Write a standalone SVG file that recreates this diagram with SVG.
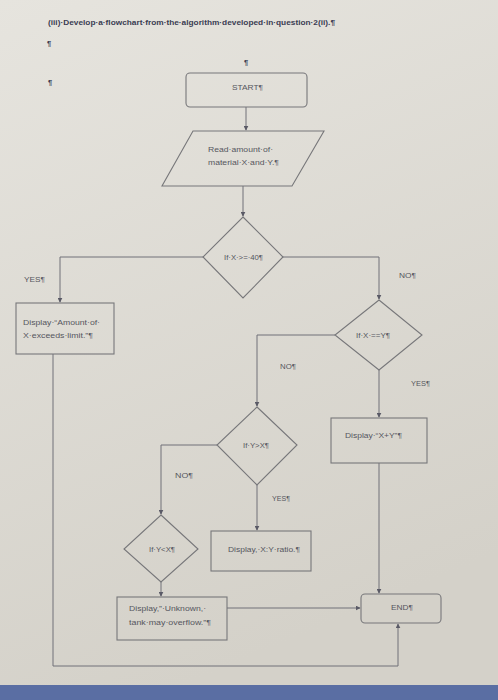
<svg xmlns="http://www.w3.org/2000/svg" width="498" height="700" viewBox="0 0 498 700">
<defs>
<linearGradient id="bg" x1="0" y1="0" x2="0.3" y2="1">
<stop offset="0" stop-color="#e6e4de"/>
<stop offset="1" stop-color="#d4d1c9"/>
</linearGradient>
<marker id="ah" viewBox="0 0 8 8" refX="7" refY="4" markerWidth="5" markerHeight="5" orient="auto" markerUnits="userSpaceOnUse">
<path d="M0,0 L8,4 L0,8 z" fill="#5a5a66"/>
</marker>
<style>
.shape{fill:none;stroke:#77777a;stroke-width:1.1}
.ln{fill:none;stroke:#707078;stroke-width:1}
.t{font-family:"Liberation Sans","DejaVu Sans",sans-serif;font-size:7px;fill:#55565e}
.title{font-family:"Liberation Sans","DejaVu Sans",sans-serif;font-size:7.5px;font-weight:bold;fill:#3a3c52}
.pm{font-family:"Liberation Sans","DejaVu Sans",sans-serif;font-size:7.5px;font-weight:bold;fill:#3a3c52}
</style>
</defs>
<rect x="0" y="0" width="498" height="700" fill="url(#bg)"/>
<rect x="0" y="685" width="498" height="15" fill="#5a6ea3"/>
<text class="title" x="48" y="25" textLength="287" lengthAdjust="spacingAndGlyphs">(iii)·Develop·a·flowchart·from·the·algorithm·developed·in·question·2(ii).¶</text>
<text class="pm" x="47" y="46">¶</text>
<text class="pm" x="244" y="65">¶</text>
<text class="pm" x="48" y="85">¶</text>

<g id="connectors">
<path class="ln" d="M246,107 V130" marker-end="url(#ah)"/>
<path class="ln" d="M243,186 V216" marker-end="url(#ah)"/>
<path class="ln" d="M203,257 H60 V302" marker-end="url(#ah)"/>
<path class="ln" d="M283,257 H379 V299" marker-end="url(#ah)"/>
<path class="ln" d="M335,335 H257 V406" marker-end="url(#ah)"/>
<path class="ln" d="M379,370 V417" marker-end="url(#ah)"/>
<path class="ln" d="M379,463 V593" marker-end="url(#ah)"/>
<path class="ln" d="M257,485 V530" marker-end="url(#ah)"/>
<path class="ln" d="M217,445 H161 V514" marker-end="url(#ah)"/>
<path class="ln" d="M161,582 V596" marker-end="url(#ah)"/>
<path class="ln" d="M227,608 H360" marker-end="url(#ah)"/>
<path class="ln" d="M53,354 V666 H398 V624" marker-end="url(#ah)"/>
<text class="t" x="24" y="282" textLength="21" lengthAdjust="spacingAndGlyphs">YES¶</text>
<text class="t" x="399" y="278" textLength="17" lengthAdjust="spacingAndGlyphs">NO¶</text>
<text class="t" x="411" y="386" textLength="19" lengthAdjust="spacingAndGlyphs">YES¶</text>
<text class="t" x="280" y="369" textLength="16" lengthAdjust="spacingAndGlyphs">NO¶</text>
<text class="t" x="175" y="478" textLength="18" lengthAdjust="spacingAndGlyphs">NO¶</text>
<text class="t" x="272" y="501" textLength="18" lengthAdjust="spacingAndGlyphs">YES¶</text>
</g>

<g id="start">
<rect class="shape" x="186" y="73" width="121" height="34" rx="4"/>
<text class="t" x="232" y="90" textLength="31" lengthAdjust="spacingAndGlyphs">START¶</text>
</g>
<g id="read">
<polygon class="shape" points="193,131 324,131 292,186 162,186"/>
<text class="t" x="208" y="152" textLength="65" lengthAdjust="spacingAndGlyphs">Read·amount·of·</text>
<text class="t" x="208" y="165" textLength="71" lengthAdjust="spacingAndGlyphs">material·X·and·Y.¶</text>
</g>
<g id="dec1">
<polygon class="shape" points="243,217 283,257 243,298 203,257"/>
<text class="t" x="224" y="260" textLength="39" lengthAdjust="spacingAndGlyphs">If·X·&gt;=·40¶</text>
</g>
<g id="disp-exceed">
<rect class="shape" x="16" y="303" width="98" height="51"/>
<text class="t" x="23" y="325" textLength="77" lengthAdjust="spacingAndGlyphs">Display·“Amount·of·</text>
<text class="t" x="23" y="338" textLength="70" lengthAdjust="spacingAndGlyphs">X·exceeds·limit.”¶</text>
</g>
<g id="dec2">
<polygon class="shape" points="379,300 422,335 379,370 335,335"/>
<text class="t" x="356" y="338" textLength="34" lengthAdjust="spacingAndGlyphs">If·X·==Y¶</text>
</g>
<g id="dec3">
<polygon class="shape" points="257,407 297,445 257,485 217,445"/>
<text class="t" x="243" y="448" textLength="26" lengthAdjust="spacingAndGlyphs">If·Y&gt;X¶</text>
</g>
<g id="disp-sum">
<rect class="shape" x="331" y="418" width="96" height="45"/>
<text class="t" x="345" y="438" textLength="57" lengthAdjust="spacingAndGlyphs">Display·“X+Y”¶</text>
</g>
<g id="dec4">
<polygon class="shape" points="161,515 198,549 161,582 124,549"/>
<text class="t" x="149" y="552" textLength="26" lengthAdjust="spacingAndGlyphs">If·Y&lt;X¶</text>
</g>
<g id="disp-ratio">
<rect class="shape" x="211" y="531" width="100" height="40"/>
<text class="t" x="228" y="552" textLength="72" lengthAdjust="spacingAndGlyphs">Display,·X:Y·ratio.¶</text>
</g>
<g id="disp-unknown">
<rect class="shape" x="117" y="597" width="110" height="43"/>
<text class="t" x="129" y="611" textLength="77" lengthAdjust="spacingAndGlyphs">Display,”·Unknown,·</text>
<text class="t" x="129" y="625" textLength="82" lengthAdjust="spacingAndGlyphs">tank·may·overflow.”¶</text>
</g>
<g id="end">
<rect class="shape" x="361" y="594" width="80" height="29" rx="4"/>
<text class="t" x="391" y="610" textLength="22" lengthAdjust="spacingAndGlyphs">END¶</text>
</g>
</svg>
